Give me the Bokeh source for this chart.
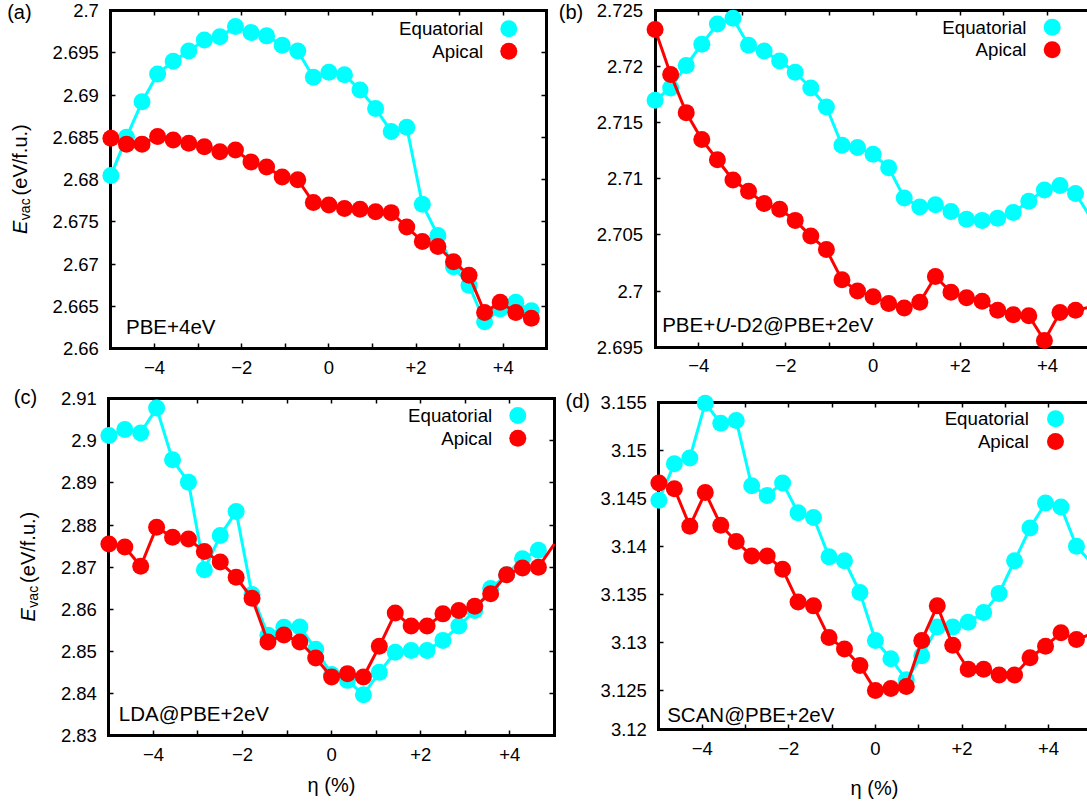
import math
from bokeh.plotting import figure
from bokeh.models import Range1d, LinearAxis, FixedTicker, CustomJSTickFormatter, Label
from bokeh.layouts import column, row
from bokeh.embed import file_html
from bokeh.resources import INLINE

# ---------------- data ----------------
ETA = [-5.0, -4.643, -4.286, -3.929, -3.571, -3.214, -2.857, -2.5, -2.143, -1.786,
       -1.429, -1.071, -0.714, -0.357, 0.0, 0.357, 0.714, 1.071, 1.429, 1.786,
       2.143, 2.5, 2.857, 3.214, 3.571, 3.929, 4.286, 4.643, 5.0]

A_EQUATORIAL = [2.6805, 2.6850, 2.6892, 2.6925, 2.6940, 2.6952, 2.6965, 2.6969, 2.6981, 2.6974,
                2.6970, 2.6959, 2.6952, 2.6921, 2.6927, 2.6924, 2.6906, 2.6884, 2.6857, 2.6862,
                2.6771, 2.6734, 2.6697, 2.6675, 2.6632, 2.6647, 2.6655, 2.6645]
A_APICAL = [2.6849, 2.6842, 2.6842, 2.6851, 2.6847, 2.6843, 2.6839, 2.6833, 2.6835, 2.6821,
            2.6815, 2.6803, 2.6800, 2.6773, 2.6770, 2.6766, 2.6765, 2.6762, 2.6761, 2.6744,
            2.6727, 2.6721, 2.6703, 2.6687, 2.6643, 2.6655, 2.6643, 2.6636]

B_EQUATORIAL = [2.7170, 2.7181, 2.7201, 2.7220, 2.7238, 2.7243, 2.7219, 2.7214, 2.7205, 2.7195,
                2.7181, 2.7164, 2.7130, 2.7128, 2.7122, 2.7110, 2.7083, 2.7075, 2.7077, 2.7071,
                2.7064, 2.7063, 2.7065, 2.7070, 2.7080, 2.7090, 2.7094, 2.7087, 2.7065]
B_APICAL = [2.7233, 2.7193, 2.7159, 2.7135, 2.7117, 2.7099, 2.7089, 2.7078, 2.7073, 2.7063,
            2.7049, 2.7037, 2.7010, 2.7000, 2.6995, 2.6989, 2.6985, 2.6990, 2.7013, 2.6999,
            2.6994, 2.6991, 2.6983, 2.6979, 2.6978, 2.6956, 2.6981, 2.6983, 2.6986]

C_EQUATORIAL = [2.9013, 2.9027, 2.9019, 2.9078, 2.8955, 2.8902, 2.8694, 2.8775, 2.8832, 2.8635,
                2.8538, 2.8557, 2.8558, 2.8505, 2.8445, 2.8431, 2.8397, 2.8450, 2.8498, 2.8502,
                2.8502, 2.8526, 2.8560, 2.8597, 2.8649, 2.8682, 2.8720, 2.8740]
C_APICAL = [2.8755, 2.8748, 2.8702, 2.8795, 2.8771, 2.8767, 2.8737, 2.8712, 2.8676, 2.8626,
            2.8522, 2.8539, 2.8522, 2.8484, 2.8439, 2.8447, 2.8439, 2.8512, 2.8591, 2.8560,
            2.8560, 2.8589, 2.8597, 2.8607, 2.8637, 2.8682, 2.8698, 2.8700, 2.8755]

D_EQUATORIAL = [3.1448, 3.1486, 3.1492, 3.1549, 3.1528, 3.1531, 3.1463, 3.1453, 3.1466, 3.1435,
                3.1430, 3.1389, 3.1385, 3.1352, 3.1302, 3.1283, 3.1261, 3.1286, 3.1316, 3.1316,
                3.1321, 3.1331, 3.1351, 3.1385, 3.1419, 3.1445, 3.1441, 3.1400, 3.1382]
D_APICAL = [3.1466, 3.1460, 3.1421, 3.1456, 3.1422, 3.1405, 3.1390, 3.1390, 3.1376, 3.1342,
            3.1338, 3.1305, 3.1293, 3.1276, 3.1250, 3.1252, 3.1254, 3.1302, 3.1338, 3.1297,
            3.1272, 3.1272, 3.1266, 3.1266, 3.1284, 3.1296, 3.1310, 3.1303, 3.1309]

X_TICKS = [-5, -4, -3, -2, -1, 0, 1, 2, 3, 4, 5]
A_YTICKS = [2.66, 2.665, 2.67, 2.675, 2.68, 2.685, 2.69, 2.695, 2.7]
B_YTICKS = [2.695, 2.7, 2.705, 2.71, 2.715, 2.72, 2.725]
C_YTICKS = [2.83, 2.84, 2.85, 2.86, 2.87, 2.88, 2.89, 2.9, 2.91]
D_YTICKS = [3.1209, 3.125, 3.13, 3.135, 3.14, 3.145, 3.15, 3.155]  # lowest shown as "3.12" at frame bottom

SERIES_NAMES = ["Equatorial", "Apical"]
PANEL_TAGS = ["(a)", "(b)", "(c)", "(d)"]
X_LABEL = "\u03b7 (%)"

# ---------------- style ----------------
CYAN = "#00ffff"
RED = "#ff0000"
FONT = "Liberation Sans"
FS_TICK = "18.5px"
FS_KEY = "18.7px"
FS_METHOD = "20.5px"
FS_AXIS = "20px"
FS_TAG = "20px"
MARKER = 17
LW = 3

X_FMT = """
const v = Math.round(tick);
if (v % 2 !== 0) return "";
if (v > 0) return "+" + v;
if (v < 0) return "\\u2212" + (-v);
return "0";
"""
Y_FMT = "return String(Math.round(tick * 200) / 200);"

# Arial/Liberation advance widths (em) used to chain mixed-style text pieces
ADV = {'P': .667, 'B': .667, 'E': .667, '+': .584, 'U': .722, '-': .333, 'D': .722,
       '2': .556, '@': 1.015, 'e': .556, 'V': .667, 'v': .5, 'a': .556, 'c': .5}


def text_w(s, px):
    return sum(ADV.get(ch, .556) for ch in s) * px


# page-pixel geometry: canvas of each panel and the gnuplot-like box (border) inside it
GA = dict(cx=0, cy=0, w=556, h=383, bx0=110.4, ppu=43.6, by0=10.0, by1=348.3,
          ylo=2.66, yhi=2.70, right=True)
GB = dict(cx=556, cy=0, w=531, h=383, bx0=654.6, ppu=43.6, by0=10.0, by1=346.7,
          ylo=2.695, yhi=2.725, right=False)
GC = dict(cx=0, cy=383, w=556, h=420, bx0=108.4, ppu=44.54, by0=398.3, by1=735.0,
          ylo=2.83, yhi=2.91, right=True)
GD = dict(cx=556, cy=383, w=531, h=420, bx0=658.4, ppu=43.3, by0=401.7, by1=729.3,
          ylo=3.1209, yhi=3.155, right=False)


def to_data(g, px, py):
    x = -5.0 + (px - g["bx0"]) / g["ppu"]
    y = g["yhi"] - (py - g["by0"]) * (g["yhi"] - g["ylo"]) / (g["by1"] - g["by0"])
    return x, y


def add_label(p, g, px, py, text, size, align="left", style="normal", angle=0.0):
    x, y = to_data(g, px, py)
    p.add_layout(Label(x=x, y=y, x_units="data", y_units="data", text=text,
                       text_font=FONT, text_font_size=size, text_font_style=style,
                       text_align=align, text_baseline="middle", angle=angle,
                       text_color="black"))


def add_axis(p, side, ticks, code, loc, bounds, show):
    ax = LinearAxis(ticker=FixedTicker(ticks=ticks), formatter=CustomJSTickFormatter(code=code),
                    fixed_location=loc, bounds=bounds,
                    axis_line_color="black", axis_line_width=3, axis_line_cap="square",
                    major_tick_in=5, major_tick_out=0, major_tick_line_width=1.5,
                    major_tick_line_color="black", minor_tick_line_color=None,
                    major_label_text_font=FONT,
                    major_label_text_color="black" if show else None,
                    major_label_text_font_size=FS_TICK,
                    major_label_standoff=(12 if side in ("left", "right") else 12))
    p.add_layout(ax, side)


def build(g, eq, ap, yticks, tag, tag_pos, method, method_pos, legend, ylab, xlab):
    xs, ye = to_data(g, g["cx"], g["cy"])
    xe, ys = to_data(g, g["cx"] + g["w"], g["cy"] + g["h"])
    p = figure(width=g["w"], height=g["h"], x_range=Range1d(xs, xe), y_range=Range1d(ys, ye),
               output_backend="svg", toolbar_location=None, title=None,
               x_axis_location=None, y_axis_location=None,
               min_border_left=0, min_border_right=0, min_border_top=0, min_border_bottom=0)
    p.outline_line_color = None
    p.background_fill_color = "white"
    p.border_fill_color = "white"
    p.grid.grid_line_color = None

    add_axis(p, "left", yticks, Y_FMT, -5.0, (g["ylo"], g["yhi"]), True)
    add_axis(p, "below", X_TICKS, X_FMT, g["ylo"], (-5.0, 5.0), True)
    add_axis(p, "above", X_TICKS, X_FMT, g["yhi"], (-5.0, 5.0), False)
    if g["right"]:
        add_axis(p, "right", yticks, Y_FMT, 5.0, (g["ylo"], g["yhi"]), False)

    for vals, color in ((eq, CYAN), (ap, RED)):
        xs_ = ETA[:len(vals)]
        p.line(xs_, vals, line_color=color, line_width=LW, line_join="round", level="annotation")
        idx = [i for i in range(len(vals)) if ETA[i] < 4.9]
        p.scatter([ETA[i] for i in idx], [vals[i] for i in idx], size=MARKER,
                  fill_color=color, line_color=None, level="annotation")

    # key (text right-aligned, marker to the right)
    mx_px, tx_px, ys_px = legend
    for name, color, py in zip(SERIES_NAMES, (CYAN, RED), ys_px):
        mx, my = to_data(g, mx_px, py)
        p.scatter([mx], [my], size=MARKER, fill_color=color, line_color=None, level="annotation")
        add_label(p, g, tx_px, py, name, FS_KEY, align="right")

    add_label(p, g, tag_pos[0], tag_pos[1], tag, FS_TAG)

    # method label, possibly mixed styles
    px = method_pos[0]
    for txt, style in method:
        add_label(p, g, px, method_pos[1], txt, FS_METHOD, style=style)
        px += text_w(txt, float(FS_METHOD[:-2]))

    if ylab is not None:
        cxp, y0 = ylab
        a = math.pi / 2
        add_label(p, g, cxp, y0, "E", FS_AXIS, style="italic", angle=a)
        y1 = y0 - text_w("E", 20) - 0.5
        add_label(p, g, cxp + 5.0, y1, "vac", "14px", angle=a)
        y2 = y1 - text_w("vac", 14) - 3
        add_label(p, g, cxp, y2, "(eV/f.u.)", FS_AXIS, angle=a)

    if xlab is not None:
        add_label(p, g, xlab[0], xlab[1], X_LABEL, FS_AXIS, align="center")
    return p


pa = build(GA, A_EQUATORIAL, A_APICAL, A_YTICKS, PANEL_TAGS[0], (6.7, 11.5),
           [("PBE+4eV", "normal")], (125.5, 325.8),
           (508.3, 482.7, (28.3, 50.7)), (19.7, 233.5), None)
pb = build(GB, B_EQUATORIAL, B_APICAL, B_YTICKS, PANEL_TAGS[1], (558.3, 11.0),
           [("PBE+", "normal"), ("U", "italic"), ("-D2@PBE+2eV", "normal")], (661.7, 324.2),
           (1051.7, 1026.0, (26.7, 49.3)), None, None)
pc = build(GC, C_EQUATORIAL, C_APICAL, C_YTICKS, PANEL_TAGS[2], (13.3, 396.7),
           [("LDA@PBE+2eV", "normal")], (118.3, 713.4),
           (517.3, 491.7, (415.0, 437.7)), (27.0, 621.0), (331.0, 784.0))
pd = build(GD, D_EQUATORIAL, D_APICAL, D_YTICKS, PANEL_TAGS[3], (565.0, 400.0),
           [("SCAN@PBE+2eV", "normal")], (666.7, 714.2),
           (1055.0, 1028.3, (418.3, 441.0)), None, (874.0, 787.0))

layout = column(row(pa, pb, spacing=0), row(pc, pd, spacing=0), spacing=0)

with open("out.html", "w", encoding="utf-8") as f:
    f.write(file_html(layout, INLINE))
